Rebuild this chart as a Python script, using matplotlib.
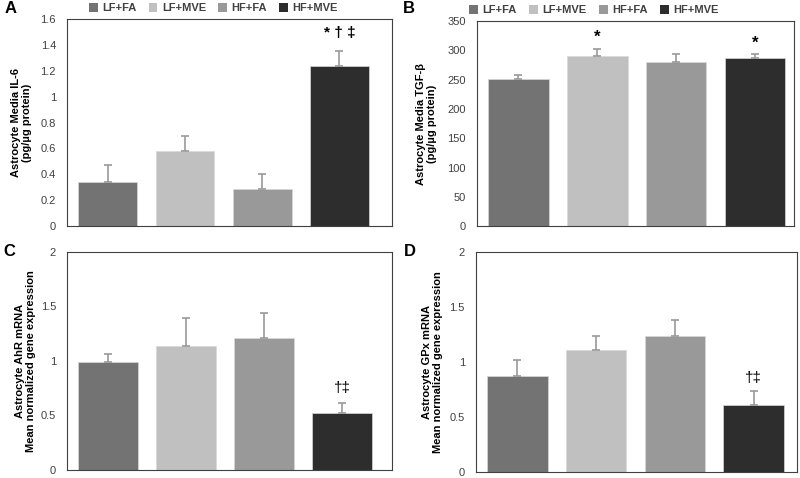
import numpy as np
from matplotlib import pyplot as plt
from matplotlib.patches import Patch

plt.rcParams['font.family'] = ['Liberation Sans', 'DejaVu Sans']

groups = ["LF+FA", "LF+MVE", "HF+FA", "HF+MVE"]
colors = ["#737373", "#c0c0c0", "#999999", "#2d2d2d"]

il6 = [0.34, 0.583, 0.284, 1.239]
il6_err = [0.13, 0.117, 0.116, 0.118]

tgfb = [251.4, 290.2, 279.3, 286.2]
tgfb_err = [6.3, 11.4, 14.3, 6.8]

ahr = [0.992, 1.139, 1.21, 0.518]
ahr_err = [0.068, 0.255, 0.233, 0.095]

gpx = [0.872, 1.106, 1.234, 0.605]
gpx_err = [0.146, 0.128, 0.146, 0.131]

x = np.arange(4)
fig = plt.figure(figsize=(8, 4.78), dpi=100)


def panel(rect, vals, errs, ylim, yticks, ticklabels, ylabel, labx, xlim, width):
	ax = fig.add_axes(rect)
	ax.bar(x, vals, width, color=colors, edgecolor="#d8d8d8", linewidth=0.5, zorder=2)
	ax.errorbar(x, vals, yerr=[np.zeros(4), errs], fmt="none", ecolor="#9a9a9a",
		elinewidth=1.2, capsize=3, capthick=1.2, zorder=3)
	ax.set_ylim(*ylim)
	ax.set_xlim(*xlim)
	ax.set_yticks(yticks)
	ax.set_yticklabels(ticklabels, fontsize=8, color="#404040")
	ax.set_xticks([])
	ax.tick_params(axis="y", length=0, pad=8)
	for s in ax.spines.values():
		s.set_color("#404040")
		s.set_linewidth(0.8)
	ax.set_ylabel(ylabel, fontsize=8, fontweight="bold", linespacing=1.1)
	ax.yaxis.set_label_coords(labx, 0.5)
	return ax


axA = panel([0.084, 0.527, 0.406, 0.433], il6, il6_err, (0, 1.6),
	np.arange(0, 1.61, 0.2), ["0", "0.2", "0.4", "0.6", "0.8", "1", "1.2", "1.4", "1.6"],
	"Astrocyte Media IL-6\n(pg/µg protein)", -0.108, (-0.524, 3.68), 0.76)
axA.text(3, 1.44, "* † ‡", ha="center", va="bottom", fontsize=11, fontweight="bold")

axB = panel([0.596, 0.527, 0.396, 0.429], tgfb, tgfb_err, (0, 350),
	np.arange(0, 351, 50), [str(v) for v in range(0, 351, 50)],
	"Astrocyte Media TGF-β\n(pg/µg protein)", -0.127, (-0.525, 3.49), 0.77)
axB.text(1, 310, "*", ha="center", va="bottom", fontsize=12, fontweight="bold")
axB.text(3, 300, "*", ha="center", va="bottom", fontsize=12, fontweight="bold")

axC = panel([0.084, 0.017, 0.406, 0.456], ahr, ahr_err, (0, 2),
	[0, 0.5, 1, 1.5, 2], ["0", "0.5", "1", "1.5", "2"],
	"Astrocyte AhR mRNA\nMean normalized gene expression", -0.096, (-0.53, 3.64), 0.77)
axC.text(3, 0.69, "†‡", ha="center", va="bottom", fontsize=11)

axD = panel([0.595, 0.0126, 0.401, 0.46], gpx, gpx_err, (0, 2),
	[0, 0.5, 1, 1.5, 2], ["0", "0.5", "1", "1.5", "2"],
	"Astrocyte GPx mRNA\nMean normalized gene expression", -0.103, (-0.527, 3.55), 0.77)
axD.text(3, 0.79, "†‡", ha="center", va="bottom", fontsize=11)

for letter, lx, ly in [("A", 0.006, 0.982), ("B", 0.503, 0.982), ("C", 0.004, 0.473), ("D", 0.505, 0.473)]:
	fig.text(lx, ly, letter, fontsize=12, fontweight="bold", va="center", ha="left")

handles = [Patch(facecolor=c, edgecolor="none") for c in colors]
for ax, cx in [(axA, 0.45), (axB, 0.37)]:
	leg = ax.legend(handles, groups, loc="lower center", bbox_to_anchor=(cx, 0.995),
		ncol=4, frameon=False, fontsize=8, handlelength=0.8, handleheight=0.8,
		handletextpad=0.4, columnspacing=1.1, borderpad=0.1)
	for t in leg.get_texts():
		t.set_fontweight("bold")
		t.set_color("#404040")

plt.savefig("out.png", dpi=100)
